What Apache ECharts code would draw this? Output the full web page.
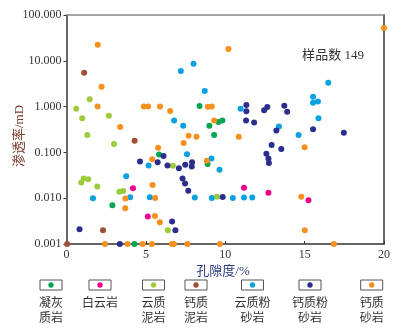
<!DOCTYPE html>
<html><head><meta charset="utf-8">
<script src="https://cdn.jsdelivr.net/npm/echarts@6/dist/echarts.min.js"></script>
<style>html,body{margin:0;padding:0;background:#fff}#c{width:418px;height:331px}</style>
</head><body><div id="c"></div>
<script>
// Categories (lithology), legend labels and colours
const categories = ['凝灰质岩','白云岩','云质泥岩','钙质泥岩','云质粉砂岩','钙质粉砂岩','钙质砂岩'];
const legendLabels = ['凝灰\n质岩','白云岩','云质\n泥岩','钙质\n泥岩','云质粉\n砂岩','钙质粉\n砂岩','钙质\n砂岩'];
const colors = ['#00a651','#ec008c','#9dcb3b','#a05035','#0ba0e0','#2b2e8c','#f7901e'];
const xTicks = [0,5,10,15,20];
const yTickValues = [0.001,0.01,0.1,1,10,100];
const sampleLabel = '样品数 149';

// [porosity %, permeability mD]
const tuff = [[8.38,1.03],[9.57,0.46],[9.82,0.50],[9.0,0.38],[9.30,0.24],[5.83,0.090],[8.89,0.056],[2.89,0.007],[4.28,0.001]];
const dolomite = [[4.19,0.0164],[5.12,0.0040],[11.18,0.0169],[12.72,0.0132],[15.24,0.0090]];
const doloMudstone = [[0.61,0.90],[0.99,0.56],[1.46,1.44],[2.67,0.63],[1.31,0.24],[2.99,0.152],[0.93,0.022],[1.08,0.027],[1.37,0.026],[1.94,0.018],[3.33,0.0138],[3.57,0.0144],[6.70,0.051],[6.38,0.0020],[9.48,0.0107]];
const calcMudstone = [[1.11,5.5],[4.29,0.18],[2.30,0.0020],[0.04,0.001]];
const doloSiltstone = [[7.20,6.0],[8.0,8.6],[8.71,2.2],[6.78,0.50],[7.35,0.38],[10.97,0.90],[13.38,0.37],[14.62,0.24],[16.49,3.3],[15.53,1.64],[15.53,1.21],[15.84,1.29],[15.87,0.56],[7.59,0.091],[9.13,0.074],[5.17,0.052],[9.64,0.042],[3.76,0.030],[1.67,0.010],[4.01,0.0105],[5.25,0.0105],[8.08,0.0104],[9.15,0.0101],[10.48,0.0101],[11.18,0.0104],[11.70,0.0104]];
const calcSiltstone = [[11.33,1.08],[11.33,0.79],[12.45,0.83],[12.65,0.98],[13.72,1.04],[13.90,0.77],[11.31,0.50],[11.82,0.45],[13.22,0.30],[15.53,0.32],[17.47,0.27],[12.92,0.145],[13.53,0.119],[12.59,0.094],[12.72,0.074],[12.75,0.059],[9.84,0.0106],[6.11,0.083],[4.63,0.063],[5.74,0.061],[6.36,0.052],[7.08,0.045],[7.48,0.054],[7.91,0.061],[7.89,0.049],[7.31,0.027],[7.47,0.021],[7.67,0.0145],[6.65,0.0031],[6.86,0.0020],[0.82,0.0021],[3.36,0.001]];
const calcSandstone = [[1.97,22.5],[2.21,2.7],[1.96,1.0],[3.38,0.36],[4.87,1.0],[5.14,1.0],[5.89,1.0],[6.53,0.80],[8.90,0.99],[9.15,1.0],[9.30,0.50],[10.2,18],[20.0,52],[10.85,0.22],[15.0,0.13],[7.69,0.23],[8.19,0.22],[7.38,0.16],[5.77,0.126],[5.40,0.071],[8.84,0.066],[5.42,0.0195],[3.71,0.0098],[3.70,0.006],[5.58,0.0101],[5.57,0.0041],[5.88,0.0030],[14.79,0.0107],[15.01,0.0020],[2.42,0.001],[3.85,0.001],[4.80,0.001],[5.38,0.001],[6.64,0.001],[6.76,0.001],[7.62,0.001],[9.66,0.001],[16.84,0.001]];
const seriesData = [tuff, dolomite, doloMudstone, calcMudstone, doloSiltstone, calcSiltstone, calcSandstone];

const legendCenters = [51, 100, 153.5, 196, 252.5, 310, 371.7];
const FONT = "'Liberation Serif','Noto Sans CJK SC',serif";

const chart = echarts.init(document.getElementById('c'), null, {renderer:'canvas'});
const graphics = [];
categories.forEach((c, i) => {
  const cx = legendCenters[i];
  graphics.push({type:'rect', shape:{x:cx-11, y:280, width:22, height:10}, style:{fill:'#fff', stroke:'#555', lineWidth:1}});
  graphics.push({type:'circle', shape:{cx:cx, cy:285, r:2.7}, style:{fill:colors[i]}});
  graphics.push({type:'text', x:cx, y:296, style:{text:legendLabels[i], align:'center', verticalAlign:'top', fontSize:12, lineHeight:15, fontFamily:FONT, fill:'#333'}});
});
graphics.push({type:'text', x:223, y:272, style:{text:'孔隙度/%', align:'center', verticalAlign:'middle', fontSize:13, fontFamily:FONT, fill:'#2b3a80'}});
graphics.push({type:'text', x:19.5, y:136, rotation:Math.PI/2, style:{text:'渗透率/mD', align:'center', verticalAlign:'middle', fontSize:13, fontFamily:FONT, fill:'#7a3b2e'}});
graphics.push({type:'text', x:333, y:56, style:{text:sampleLabel, align:'center', verticalAlign:'middle', fontSize:13, fontFamily:FONT, fill:'#333'}});

chart.setOption({
  animation:false,
  backgroundColor:'#fff',
  grid:{left:66.5, right:34, top:15, bottom:87, containLabel:false},
  xAxis:[{
    type:'value', min:xTicks[0], max:xTicks[xTicks.length-1], interval:5, position:'bottom',
    axisLine:{show:true, onZero:false, lineStyle:{color:'#333', width:1.5}},
    axisTick:{show:true, inside:true, length:3, lineStyle:{color:'#333'}},
    axisLabel:{margin:5, fontSize:12, fontFamily:FONT, color:'#333'},
    splitLine:{show:false}
  },{
    type:'value', min:0, max:20, position:'top',
    axisLine:{show:true, onZero:false, lineStyle:{color:'#888', width:1.5}},
    axisTick:{show:false}, axisLabel:{show:false}, splitLine:{show:false}
  }],
  yAxis:[{
    type:'log', logBase:10, min:yTickValues[0], max:yTickValues[yTickValues.length-1], position:'left',
    axisLine:{show:true, onZero:false, lineStyle:{color:'#333', width:1.5}},
    axisTick:{show:true, inside:false, length:3, lineStyle:{color:'#333'}},
    axisLabel:{margin:5, fontSize:12, fontFamily:FONT, color:'#333', formatter:v => Number(v).toFixed(3)},
    splitLine:{show:false}, minorTick:{show:false}
  },{
    type:'value', min:0, max:1, position:'right',
    axisLine:{show:true, onZero:false, lineStyle:{color:'#333', width:1.5}},
    axisTick:{show:false}, axisLabel:{show:false}, splitLine:{show:false}
  }],
  series: categories.map((c, i) => ({
    name:c, type:'scatter', xAxisIndex:0, yAxisIndex:0, data:seriesData[i],
    symbol:'circle', symbolSize:6, clip:false, itemStyle:{color:colors[i], opacity:1}
  })),
  graphic:graphics
});
</script></body></html>
